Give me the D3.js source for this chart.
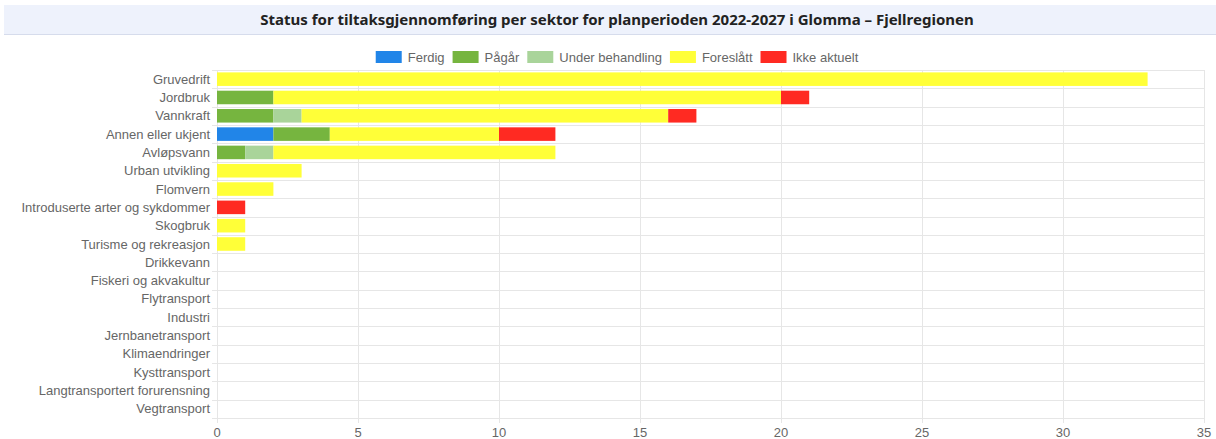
<!DOCTYPE html>
<meta charset="utf-8">
<style>
body { margin: 0; background: #fff; }
.title { font-family: "Noto Sans", sans-serif; font-weight: bold; font-size: 15px; fill: #222; }
.label { font-family: "Liberation Sans", Arial, sans-serif; font-size: 13px; fill: #666; }
.grid line { stroke: #e6e6e6; }
</style>
<body>
<script src="https://d3js.org/d3.v7.min.js"></script>
<script>

var categories = ["Gruvedrift", "Jordbruk", "Vannkraft", "Annen eller ukjent", "Avløpsvann",
  "Urban utvikling", "Flomvern", "Introduserte arter og sykdommer", "Skogbruk",
  "Turisme og rekreasjon", "Drikkevann", "Fiskeri og akvakultur", "Flytransport",
  "Industri", "Jernbanetransport", "Klimaendringer", "Kysttransport",
  "Langtransportert forurensning", "Vegtransport"];

var seriesNames = ["Ferdig", "Pågår", "Under behandling", "Foreslått", "Ikke aktuelt"];
var seriesColors = ["#2185e8", "#76b53f", "#a9d49a", "#ffff38", "#ff2a22"];

var ferdig          = [0, 0, 0, 2, 0, 0, 0, 0, 0, 0, 0, 0, 0, 0, 0, 0, 0, 0, 0];
var pagar           = [0, 2, 2, 2, 1, 0, 0, 0, 0, 0, 0, 0, 0, 0, 0, 0, 0, 0, 0];
var underBehandling = [0, 0, 1, 0, 1, 0, 0, 0, 0, 0, 0, 0, 0, 0, 0, 0, 0, 0, 0];
var foreslatt       = [33, 18, 13, 6, 10, 3, 2, 0, 1, 1, 0, 0, 0, 0, 0, 0, 0, 0, 0];
var ikkeAktuelt     = [0, 1, 1, 2, 0, 0, 0, 1, 0, 0, 0, 0, 0, 0, 0, 0, 0, 0, 0];

var xTicks = [0, 5, 10, 15, 20, 25, 30, 35];
var titleText = "Status for tiltaksgjennomføring per sektor for planperioden 2022-2027 i Glomma – Fjellregionen";

var W = 1216, H = 439;
var margin = {top: 70, right: 12, bottom: 21, left: 217},
    width = W - margin.left - margin.right,
    height = H - margin.top - margin.bottom;

var svg = d3.select("body").append("svg")
    .attr("width", W)
    .attr("height", H);

// title bar
svg.append("rect")
    .attr("x", 4).attr("y", 5)
    .attr("width", W - 4).attr("height", 29)
    .style("fill", "#eef2fc");
svg.append("line")
    .attr("x1", 4).attr("x2", W)
    .attr("y1", 34.5).attr("y2", 34.5)
    .style("stroke", "#d6dcec");
svg.append("text")
    .attr("class", "title")
    .attr("x", 617).attr("y", 25)
    .style("text-anchor", "middle")
    .text(titleText);

var rows = categories.map(function(c, i) {
  return {cat: c, Ferdig: ferdig[i], "Pågår": pagar[i], "Under behandling": underBehandling[i],
          "Foreslått": foreslatt[i], "Ikke aktuelt": ikkeAktuelt[i]};
});
var stacked = d3.stack().keys(seriesNames)(rows);

var x = d3.scaleLinear().domain([0, 35]).range([0, width]);
var y = d3.scaleBand().domain(categories).range([0, height]).paddingInner(0.26).paddingOuter(0.13);

var g = svg.append("g")
    .attr("transform", "translate(" + margin.left + "," + margin.top + ")");

// grid
var grid = g.append("g").attr("class", "grid");
grid.selectAll(".vx").data(xTicks).enter().append("line")
    .attr("x1", function(d) { return Math.round(x(d)) + 0.5; })
    .attr("x2", function(d) { return Math.round(x(d)) + 0.5; })
    .attr("y1", 0).attr("y2", height + 5);
var step = height / categories.length;
grid.selectAll(".hy").data(d3.range(categories.length + 1)).enter().append("line")
    .attr("x1", -5).attr("x2", width)
    .attr("y1", function(d) { return Math.round(d * step) + 0.5; })
    .attr("y2", function(d) { return Math.round(d * step) + 0.5; });

// bars
g.selectAll(".series").data(stacked).enter().append("g")
    .style("fill", function(d, i) { return seriesColors[i]; })
  .selectAll("rect").data(function(d) { return d; }).enter().append("rect")
    .attr("x", function(d) { return x(d[0]); })
    .attr("y", function(d) { return y(d.data.cat); })
    .attr("width", function(d) { return x(d[1]) - x(d[0]); })
    .attr("height", y.bandwidth());

// y labels
g.selectAll(".ylab").data(categories).enter().append("text")
    .attr("class", "label")
    .attr("x", -7)
    .attr("y", function(d) { return y(d) + y.bandwidth() / 2; })
    .attr("dy", "0.35em")
    .style("text-anchor", "end")
    .text(function(d) { return d; });

// x labels
g.selectAll(".xlab").data(xTicks).enter().append("text")
    .attr("class", "label")
    .attr("x", function(d) { return x(d); })
    .attr("y", height + 19)
    .style("text-anchor", "middle")
    .text(function(d) { return d; });

// legend
var legend = svg.append("g");
var lx = 0, boxW = 26, gapText = 6, gapItem = 8;
seriesNames.forEach(function(name, i) {
  var it = legend.append("g");
  it.append("rect").attr("x", 0).attr("y", 51).attr("width", boxW).attr("height", 12)
      .style("fill", seriesColors[i]);
  var t = it.append("text").attr("class", "label")
      .attr("x", boxW + gapText).attr("y", 62).text(name);
  var w = boxW + gapText + t.node().getComputedTextLength();
  it.attr("transform", "translate(" + lx + ",0)");
  lx += w + gapItem;
});
legend.attr("transform", "translate(" + (617 - (lx - gapItem) / 2) + ",0)");

</script>
</body>
